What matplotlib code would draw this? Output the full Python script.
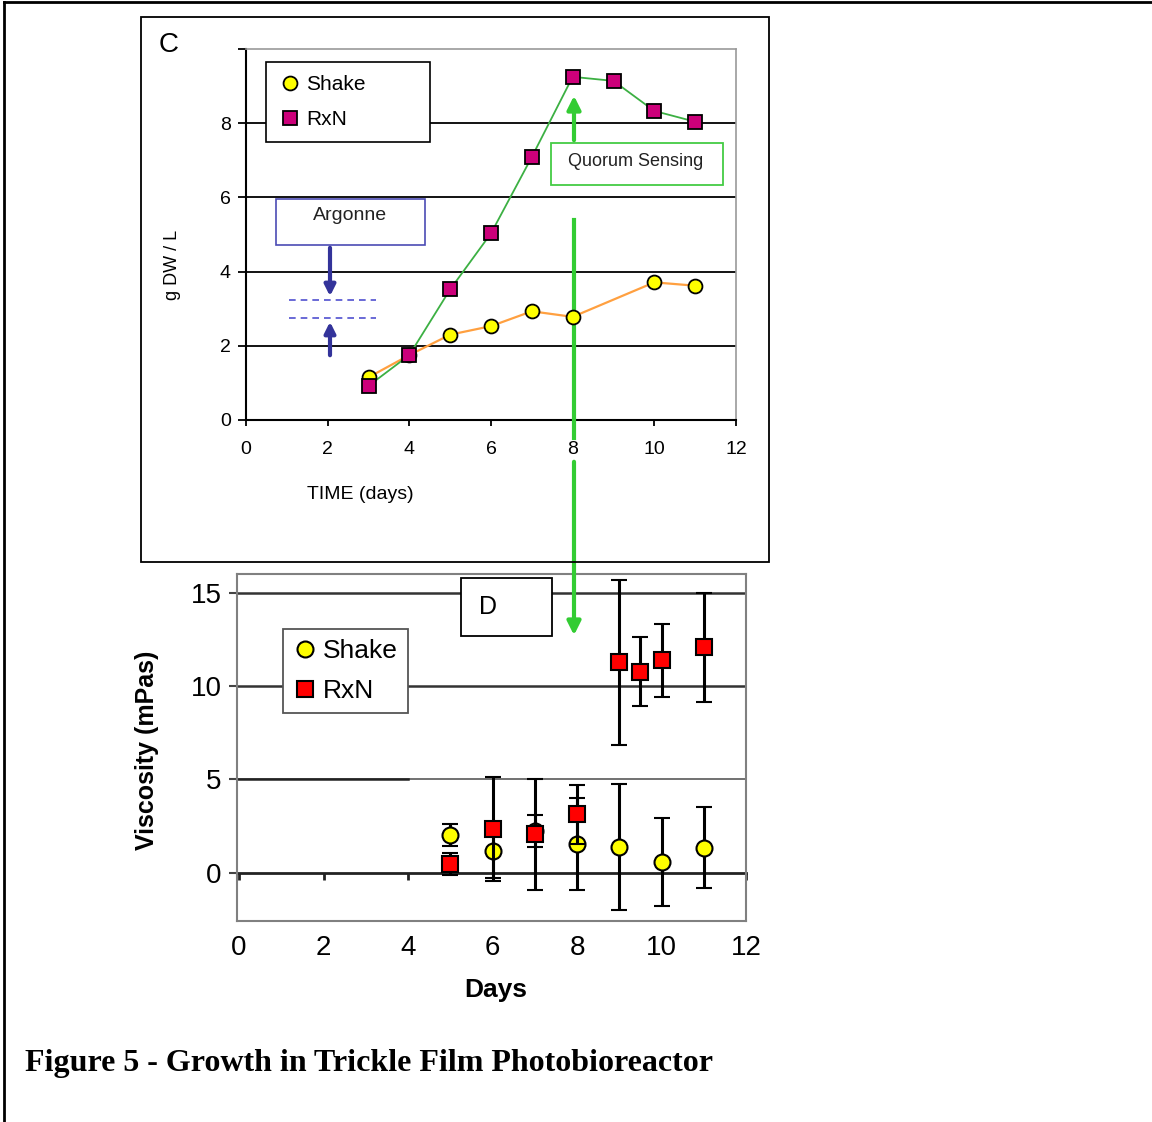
import matplotlib
matplotlib.use('Agg')
import matplotlib.pyplot as plt
from matplotlib.patches import Rectangle, FancyArrowPatch
from matplotlib.lines import Line2D

plt.rcParams['font.family'] = ['Liberation Sans', 'DejaVu Sans']

W, H = 1152, 1122

# panel C - dry weight (g DW / L)
c_shake_days = [3, 4, 5, 6, 7, 8, 10, 11]
c_shake = [1.15, 1.75, 2.3, 2.53, 2.93, 2.78, 3.71, 3.62]
c_rxn_days = [3, 4, 5, 6, 7, 8, 9, 10, 11]
c_rxn = [0.92, 1.75, 3.52, 5.03, 7.09, 9.25, 9.14, 8.33, 8.04]

# panel D - viscosity (mPas)
d_shake_days = [5, 6, 7, 8, 9, 10, 11]
d_shake = [2.02, 1.16, 2.25, 1.55, 1.37, 0.6, 1.34]
d_shake_err = [0.6, 1.45, 0.85, 2.48, 3.37, 2.36, 2.17]
d_rxn_days = [5, 6, 7, 8, 9, 9.5, 10, 11]
d_rxn = [0.47, 2.33, 2.05, 3.13, 11.28, 10.77, 11.39, 12.08]
d_rxn_err = [0.6, 2.8, 3.0, 1.6, 4.43, 1.85, 1.97, 2.93]

x_ticks = [0, 2, 4, 6, 8, 10, 12]


def fx(px):
    return px / W


def fy(py):
    return 1 - py / H


def axrect(l, t, r, b):
    return [fx(l), fy(b), (r - l) / W, (b - t) / H]


fig = plt.figure(figsize=(W / 100, H / 100), dpi=100)
tf = fig.transFigure

# ---------- panel C ----------
axC = fig.add_axes(axrect(246, 49, 736, 420))
axC.plot(c_shake_days, c_shake, color='#FFA040', lw=1.6, zorder=3)
axC.plot(c_rxn_days, c_rxn, color='#3CB043', lw=1.3, zorder=3)
hs, = axC.plot(c_shake_days, c_shake, 'o', ms=10, mfc='#FFFF00', mec='black',
               mew=1.3, zorder=4, label='Shake')
hr, = axC.plot(c_rxn_days, c_rxn, 's', ms=9.5, mfc='#CC007A', mec='black',
               mew=1.3, zorder=5, label='RxN')
for v in [2, 4, 6, 8]:
    axC.axhline(v, color='black', lw=1.3, zorder=1)
axC.set_xlim(0, 12)
axC.set_ylim(0, 10)
axC.set_xticks(x_ticks)
axC.set_yticks([0, 2, 4, 6, 8, 10])
axC.set_yticklabels(['0', '2', '4', '6', '8', ''])
axC.tick_params(axis='x', length=4, width=1.3, pad=11, labelsize=14)
axC.tick_params(axis='y', length=6, width=1.3, pad=5, labelsize=14)
for s in ['left', 'bottom']:
    axC.spines[s].set_linewidth(1.5)
for s in ['top', 'right']:
    axC.spines[s].set_color('#999999')
    axC.spines[s].set_linewidth(1.2)
axC.text(0.233, -0.2, 'TIME (days)', transform=axC.transAxes, ha='center',
         va='center', fontsize=14)
axC.text(-0.151, 0.418, 'g DW / L', transform=axC.transAxes, ha='center',
         va='center', rotation=90, fontsize=13)
legC = axC.legend(handles=[hs, hr], loc='upper left', mode='expand',
                  bbox_to_anchor=(0.041, 0.736, 0.335, 0.229), borderaxespad=0,
                  fontsize=15, labelspacing=0.76, borderpad=0.64,
                  handlelength=1.0, handletextpad=0.3, fancybox=False,
                  edgecolor='black', framealpha=1)
legC.get_frame().set_linewidth(1.2)
legC.set_zorder(6)

# annotations on C
axC.add_patch(Rectangle((fx(276), fy(245)), (425 - 276) / W, (245 - 199) / H,
                        transform=tf, fc='white', ec='#4B4BB4', lw=1.2,
                        zorder=6, clip_on=False))
fig.text(fx(350), fy(215), 'Argonne', ha='center', va='center', fontsize=14,
         color='#222222')
for y0, y1 in [(245, 299), (358, 319)]:
    fig.add_artist(FancyArrowPatch((fx(330), fy(y0)), (fx(330), fy(y1)),
                                   transform=tf, arrowstyle='-|>',
                                   mutation_scale=16, lw=3, color='#33339A'))
for y in [300, 318]:
    fig.add_artist(Line2D([fx(289), fx(376)], [fy(y), fy(y)], transform=tf,
                          ls=(0, (4, 3)), color='#5050D0', lw=1.2))

axC.add_patch(Rectangle((fx(551), fy(185)), (723 - 551) / W, (185 - 143) / H,
                        transform=tf, fc='white', ec='#44CC44', lw=1.3,
                        zorder=6, clip_on=False))
fig.text(fx(636), fy(162), 'Quorum Sensing', ha='center', va='center',
         fontsize=13, color='#222222')
fig.add_artist(FancyArrowPatch((fx(574), fy(143)), (fx(574), fy(93)),
                               transform=tf, arrowstyle='-|>',
                               mutation_scale=20, lw=3, color='#33CC33'))
axC.add_line(Line2D([fx(574), fx(574)], [fy(220), fy(438)], transform=tf,
                    color='#33CC33', lw=3, zorder=3.5, clip_on=False))
fig.add_artist(FancyArrowPatch((fx(574), fy(459)), (fx(574), fy(638)),
                               transform=tf, arrowstyle='-|>',
                               mutation_scale=20, lw=3, color='#33CC33'))

fig.text(fx(169), fy(45), 'C', ha='center', va='center', fontsize=20)
fig.add_artist(Rectangle((fx(141), fy(562)), (769 - 141) / W, (562 - 17) / H,
                         transform=tf, fill=False, ec='black', lw=1.3))

# ---------- panel D ----------
axD = fig.add_axes(axrect(237, 574, 746, 921))
ymin, ymax = -2.59, 16.02
eb1 = axD.errorbar(d_shake_days, d_shake, yerr=d_shake_err, fmt='o', ms=11.5,
                   mfc='#FFFF00', mec='black', mew=1.5, ecolor='black',
                   elinewidth=2.2, capsize=6, capthick=2.2, zorder=3,
                   label='Shake')
eb2 = axD.errorbar(d_rxn_days, d_rxn, yerr=d_rxn_err, fmt='s', ms=11.5,
                   mfc='#FF0000', mec='black', mew=1.5, ecolor='black',
                   elinewidth=2.2, capsize=6, capthick=2.2, zorder=4,
                   label='RxN')
for v in [10, 15]:
    axD.axhline(v, color='#333333', lw=1.8, zorder=1)
axD.axhline(5, color='#666666', lw=1.3, zorder=1)
axD.axhline(5, xmax=(408 - 237) / 509, color='#222222', lw=1.8, zorder=1)
axD.set_xlim(-0.05, 12)
axD.set_ylim(ymin, ymax)
axD.set_xticks(x_ticks)
axD.set_yticks([0, 5, 10, 15])
axD.tick_params(axis='x', length=0, pad=10, labelsize=20)
axD.tick_params(axis='y', length=6, width=1.5, color='#444444', pad=5,
                labelsize=20)
for s in axD.spines.values():
    s.set_color('#808080')
    s.set_linewidth(1.5)

sec = axD.secondary_xaxis((0 - ymin) / (ymax - ymin))
sec.set_xticks(x_ticks)
sec.set_xticklabels([])
sec.tick_params(length=5, width=2, color='#222222')
sec.spines['bottom'].set_linewidth(2)
sec.spines['bottom'].set_color('#222222')

legD = axD.legend(handles=[eb1[0], eb2[0]], labels=['Shake', 'RxN'],
                  loc='upper left', mode='expand',
                  bbox_to_anchor=(0.090, 0.608, 0.246, 0.233), borderaxespad=0,
                  fontsize=19, labelspacing=0.6, borderpad=0.38,
                  handlelength=0.9, handletextpad=0.25, fancybox=False,
                  edgecolor='#555555', framealpha=1)
legD.get_frame().set_linewidth(1.3)

axD.add_patch(Rectangle((fx(461), fy(636)), (552 - 461) / W, (636 - 578) / H,
                        transform=tf, fc='white', ec='black', lw=1.3,
                        zorder=2.5, clip_on=False))
fig.text(fx(488), fy(607), 'D', ha='center', va='center', fontsize=18)

fig.text(fx(147), fy(750), 'Viscosity (mPas)', ha='center', va='center',
         rotation=90, fontsize=18, fontweight='bold')
fig.text(fx(496), fy(990), 'Days', ha='center', va='center', fontsize=19,
         fontweight='bold')

# caption and page border
fig.text(fx(25), fy(1063), 'Figure 5 - Growth in Trickle Film Photobioreactor',
         ha='left', va='center', fontsize=23, fontweight='bold',
         family=['Liberation Serif', 'DejaVu Serif'])
fig.add_artist(Line2D([fx(4), fx(1152)], [fy(2), fy(2)], transform=tf,
                      color='black', lw=2))
fig.add_artist(Line2D([fx(4), fx(4)], [fy(2), fy(1122)], transform=tf,
                      color='black', lw=2))

fig.savefig('out.png', dpi=100)
